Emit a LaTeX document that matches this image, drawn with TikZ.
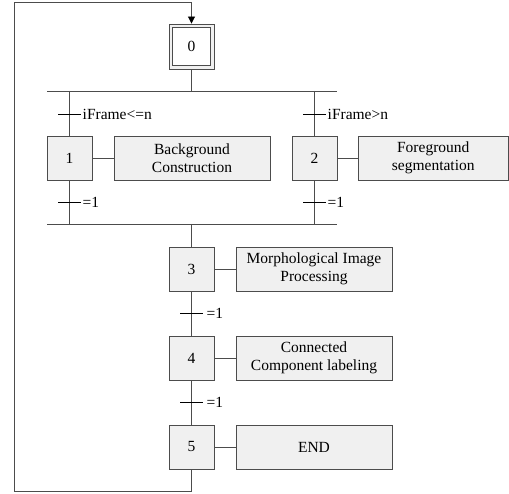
\documentclass[tikz,border=0pt]{standalone}
\usepackage{fontspec}
\setmainfont{Liberation Serif}
\usetikzlibrary{arrows.meta}
\begin{document}
\begin{tikzpicture}[x=1pt,y=-1pt,
  line/.style={draw=black!70,line width=0.9pt},
  stepbox/.style={draw=black!70,line width=0.9pt,fill=black!6,minimum width=45pt,minimum height=44pt,inner sep=0pt,font=\fontsize{15.5}{17.5}\selectfont},
  actbox/.style={draw=black!70,line width=0.9pt,fill=black!6,minimum height=44pt,inner sep=0pt,align=center,font=\fontsize{15.5}{17.5}\selectfont},
  lbl/.style={anchor=west,inner sep=0pt,font=\fontsize{15.5}{17.5}\selectfont},
  tick/.style={draw=black,line width=0.9pt}]
\useasboundingbox (0,0) rectangle (509,494);
% steps
\node[stepbox,minimum height=45pt] (s0) at (191.5,46.5) {};
\draw[line,fill=white] ([shift={(4,4)}]s0.north west) rectangle ([shift={(-4,-4)}]s0.south east);
\node[font=\fontsize{15.5}{17.5}\selectfont] (s0t) at (s0.center) {0};
\node[stepbox] (s1) at (69.5,158) {1};
\node[stepbox] (s2) at (314.5,158) {2};
\node[stepbox] (s3) at (191.5,269) {3};
\node[stepbox] (s4) at (191.5,358) {4};
\node[stepbox] (s5) at (191.5,447) {5};
% actions
\node[actbox,minimum width=156pt] (a1) at (192,158) {Background\\Construction};
\node[actbox,minimum width=150.5pt] (a2) at (433.25,158) {Foreground\\segmentation};
\node[actbox,minimum width=156pt] (a3) at (314,269) {Morphological Image\\Processing};
\node[actbox,minimum width=156pt] (a4) at (314,358) {Connected\\Component labeling};
\node[actbox,minimum width=156pt] (a5) at (314,447) {END};
\foreach \s/\a in {s1/a1,s2/a2,s3/a3,s4/a4,s5/a5} \draw[line] (\s.east) -- (\a.west);
% sync bars
\coordinate (tbL) at (47,91); \coordinate (tbR) at (337,91);
\coordinate (bbL) at (47,224); \coordinate (bbR) at (337,224);
\draw[line] (tbL) -- (tbR);
\draw[line] (bbL) -- (bbR);
\draw[line] (s0.south) -- (s0.south |- tbL);
\draw[line] (s1.north |- tbL) -- (s1.north);
\draw[line] (s2.north |- tbL) -- (s2.north);
\draw[line] (s1.south) -- (s1.south |- bbL);
\draw[line] (s2.south) -- (s2.south |- bbL);
\draw[line] (s3.north |- bbL) -- (s3.north);
\draw[line] (s3.south) -- (s4.north);
\draw[line] (s4.south) -- (s5.north);
% transitions
\coordinate (t1) at (69.5,114); \coordinate (t2) at (314.5,114);
\coordinate (t3) at (69.5,202); \coordinate (t4) at (314.5,202);
\coordinate (t5) at (191.5,313); \coordinate (t6) at (191.5,402);
\foreach \t in {t1,t2,t3,t4,t5,t6} \draw[tick] ([xshift=-11.5pt]\t) -- ([xshift=11.5pt]\t);
\node[lbl] (l1) at ([xshift=13pt]t1) {iFrame<=n};
\node[lbl] (l2) at ([xshift=13pt]t2) {iFrame>n};
\node[lbl] (l3) at ([xshift=13pt]t3) {=1};
\node[lbl] (l4) at ([xshift=13pt]t4) {=1};
\node[lbl] (l5) at ([xshift=15pt]t5) {=1};
\node[lbl] (l6) at ([xshift=15pt]t6) {=1};
% loop back
\coordinate (lb) at (14,491);
\coordinate (lt) at (14,2);
\draw[line,-{Triangle[length=7pt,width=7pt,fill=black,color=black]}] (s5.south) -- (s5.south |- lb) -- (lb) -- (lt) -- (lt -| s0.north) -- (s0.north);
\end{tikzpicture}
\end{document}
